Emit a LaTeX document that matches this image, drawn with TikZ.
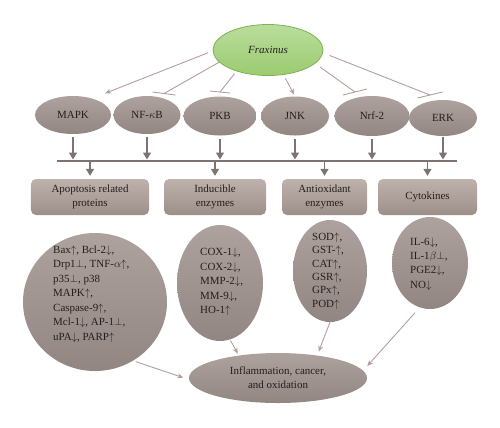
\documentclass[tikz,border=0pt]{standalone}
\usepackage{fontspec}
\setmainfont{Liberation Serif}
\usepackage{tikz}
\usetikzlibrary{shapes.geometric,arrows.meta}

\definecolor{leaftop}{HTML}{BADD9C}
\definecolor{leafbottom}{HTML}{9BCB70}
\definecolor{leafedge}{HTML}{7DB257}
\definecolor{greytop}{HTML}{ADA29E}
\definecolor{greybottom}{HTML}{928683}
\definecolor{boxtop}{HTML}{BFB2AD}
\definecolor{boxbottom}{HTML}{9C8F8A}
\definecolor{linkgrey}{HTML}{B39F9C}
\definecolor{stemgrey}{HTML}{7D7370}
\definecolor{inkcolor}{HTML}{231F20}

\begin{document}
\begin{tikzpicture}[x=1bp, y=-1bp,
  plantnode/.style={ellipse, draw=leafedge, line width=0.8bp, top color=leaftop, bottom color=leafbottom, inner sep=0pt},
  pathnode/.style={ellipse, top color=greytop, bottom color=greybottom, inner sep=0pt},
  groupbox/.style={rectangle, rounded corners=5bp, top color=boxtop, bottom color=boxbottom, minimum height=36bp, inner sep=0pt, align=center, font=\fontsize{11}{14}\selectfont},
  listtext/.style={anchor=west, inner sep=0pt, align=left},
  actarrow/.style={draw=linkgrey, line width=0.9bp, -{Stealth[length=6bp,width=5bp]}},
  inhline/.style={draw=linkgrey, line width=0.9bp},
  downarrow/.style={draw=stemgrey, line width=1.4bp, -{Triangle[length=7bp,width=8bp]}},
  font=\fontsize{11}{14.5}\selectfont, text=inkcolor]
\useasboundingbox (0,0) rectangle (500,427);

%top node
  \node[plantnode, minimum width=110bp, minimum height=51bp] (frax) at (268,50) {\textit{Fraxinus}};

%pathways
  \node[pathnode, minimum width=76bp, minimum height=38bp] (mapk) at (73,115) {MAPK};
  \node[pathnode, minimum width=67bp, minimum height=38bp] (nfkb) at (147,115) {NF-$\kappa$B};
  \node[pathnode, minimum width=73bp, minimum height=39bp] (pkb) at (220,116) {PKB};
  \node[pathnode, minimum width=68bp, minimum height=39bp] (jnk) at (295,116) {JNK};
  \node[pathnode, minimum width=75bp, minimum height=40bp] (nrf) at (372,116) {Nrf-2};
  \node[pathnode, minimum width=68bp, minimum height=36bp] (erk) at (443,118) {ERK};

%inhibition ends
  \coordinate (nfkbbar) at (164,93.5);
  \coordinate (pkbbar) at (220,92);
  \coordinate (nrfbar) at (355,92);
  \coordinate (erkbar) at (430,95);

  \draw[actarrow, shorten <=5bp, shorten >=14bp] (frax.181) -- (mapk.41);
  \draw[inhline] (frax.194) -- (nfkbbar) ++(-11.5,-1.5) -- ++(23,3);
  \draw[inhline, shorten <=3bp] (frax.214) -- (pkbbar);
  \draw[inhline] (pkbbar) ++(-10,-1) -- ++(20,2);
  \draw[actarrow, shorten <=4bp, shorten >=2bp] (frax.302) -- (jnk.north);
  \draw[inhline, shorten <=6bp] (frax.344) -- (nrfbar);
  \draw[inhline] (nrfbar) ++(-12,3) -- ++(24,-6);
  \draw[inhline, shorten <=7bp] (frax.357) -- (erkbar);
  \draw[inhline] (erkbar) ++(-12.5,3) -- ++(25,-6);

%bus line
  \coordinate (busL) at (57,161);
  \coordinate (busR) at (457,161);
  \draw[stemgrey, line width=1.2bp] (busL) -- (busR);

  \draw[downarrow, shorten <=3bp, shorten >=1.5bp] (mapk.south) -- (mapk.south |- busL);
  \draw[downarrow, shorten <=3bp, shorten >=1.5bp] (nfkb.south) -- (nfkb.south |- busL);
  \draw[downarrow, shorten <=3bp, shorten >=1.5bp] (pkb.south) -- (pkb.south |- busL);
  \draw[downarrow, shorten <=3bp, shorten >=1.5bp] (jnk.south) -- (jnk.south |- busL);
  \draw[downarrow, shorten <=3bp, shorten >=1.5bp] (nrf.south) -- (nrf.south |- busL);
  \draw[downarrow, shorten <=1bp, shorten >=1.5bp] (erk.south) -- (erk.south |- busL);

%group boxes
  \node[groupbox, minimum width=118bp] (apobox) at (90,197) {Apoptosis related\\proteins};
  \node[groupbox, minimum width=102bp] (indbox) at (215,197) {Inducible\\enzymes};
  \node[groupbox, minimum width=85bp] (antibox) at (324.5,197) {Antioxidant\\enzymes};
  \node[groupbox, minimum width=99bp] (cytobox) at (427.5,197) {Cytokines};

  \draw[downarrow, shorten >=3bp] (apobox.north |- busL) -- (apobox.north);
  \draw[downarrow, shorten >=3bp] (indbox.north |- busL) -- (indbox.north);
  \draw[downarrow, shorten >=3bp] (antibox.north |- busL) -- (antibox.north);
  \draw[downarrow, shorten >=3bp] (cytobox.north |- busL) -- (cytobox.north);

%marker lists
  \node[pathnode, minimum width=144bp, minimum height=138bp] (apoell) at (95,302) {};
  \node[pathnode, minimum width=86bp, minimum height=116bp] (indell) at (220,283) {};
  \node[pathnode, minimum width=74bp, minimum height=102bp] (antiell) at (330,271) {};
  \node[pathnode, minimum width=76bp, minimum height=92bp] (cytoell) at (430,263) {};

  \node[listtext] (apotext) at (53,294) {Bax$\uparrow$, Bcl-2$\downarrow$,\\Drp1$\perp$, TNF-$\alpha$$\uparrow$,\\p35$\perp$, p38\\MAPK$\uparrow$,\\Caspase-9$\uparrow$,\\Mcl-1$\downarrow$, AP-1$\perp$,\\uPA$\downarrow$, PARP$\uparrow$};
  \node[listtext] (indtext) at (200,282) {COX-1$\downarrow$,\\COX-2$\downarrow$,\\MMP-2$\downarrow$,\\MM-9$\downarrow$,\\HO-1$\uparrow$};
  \node[listtext, font=\fontsize{11}{13.5}\selectfont] (antitext) at (312,271) {SOD$\uparrow$,\\GST-$\uparrow$,\\CAT$\uparrow$,\\GSR$\uparrow$,\\GPx$\uparrow$,\\POD$\uparrow$};
  \node[listtext] (cytotext) at (410,264) {IL-6$\downarrow$,\\IL-1$\beta$$\perp$,\\PGE2$\downarrow$,\\NO$\downarrow$};

%outcome
  \node[pathnode, minimum width=178bp, minimum height=50bp, align=center, font=\fontsize{11}{14}\selectfont] (inflam) at (278,378) {Inflammation, cancer,\\and oxidation};

  \draw[actarrow, shorten <=3bp, shorten >=6bp] (apoell.303) -- (inflam.181);
  \draw[actarrow, shorten <=1bp, shorten >=2bp] (indell.280) -- (inflam.150);
  \draw[actarrow, shorten >=4bp] (antiell.south) -- (inflam.30);
  \draw[actarrow, shorten <=7bp, shorten >=6bp] (cytoell.257) -- (inflam.5);
\end{tikzpicture}
\end{document}
